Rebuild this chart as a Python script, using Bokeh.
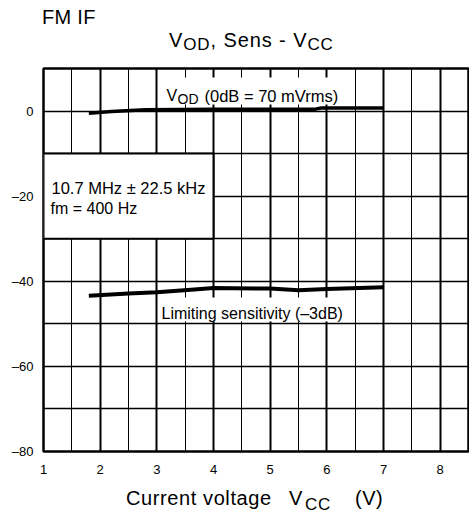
from bokeh.plotting import figure
from bokeh.models import (Range1d, FixedTicker, Grid, Label, CustomJSTickFormatter, Div)
from bokeh.layouts import column
from bokeh.embed import file_html
from bokeh.resources import INLINE

# ---- data ----
vcc_vod = [1.8, 2.2, 2.8, 4.0, 5.0, 5.8, 5.9, 7.0]
vod_db = [-0.5, -0.1, 0.3, 0.4, 0.4, 0.45, 0.7, 0.7]

vcc_sens = [1.8, 2.5, 3.0, 3.6, 4.0, 5.0, 5.5, 6.0, 7.0]
sens_db = [-43.4, -42.9, -42.6, -42.0, -41.6, -41.7, -42.1, -41.8, -41.4]

x_ticks = [1, 2, 3, 4, 5, 6, 7, 8]
y_ticks = [0, -20, -40, -60, -80]

FONT = "Liberation Sans"

TOP_H = 60          # header div height
FL, FT, FW, FH, FB = 43, 8, 425, 383, 30
X0, X1, Y0, Y1 = 1, 8.5, -80, 10

p = figure(frame_width=FW, frame_height=FH, min_border_left=FL, min_border_top=FT,
           min_border_right=1, min_border_bottom=FB,
           x_range=Range1d(X0, X1), y_range=Range1d(Y0, Y1),
           output_backend="svg", toolbar_location=None)

# page pixel -> data helpers (text placement only)
def px2x(px):
    return X0 + (px - FL) * (X1 - X0) / FW

def py2y(py):
    return Y1 - (py - TOP_H - FT) * (Y1 - Y0) / FH

p.outline_line_color = "black"
p.outline_line_width = 2.5
p.background_fill_color = "white"
p.border_fill_color = "white"

# grids
p.xgrid.ticker = FixedTicker(ticks=x_ticks)
p.xgrid.grid_line_color = "black"
p.xgrid.grid_line_width = 2
half = Grid(dimension=0, ticker=FixedTicker(ticks=[1.5, 2.5, 3.5, 4.5, 5.5, 6.5, 7.5]),
            grid_line_color="black", grid_line_width=1)
p.add_layout(half)
p.ygrid.ticker = FixedTicker(ticks=[0, -10, -20, -30, -40, -50, -60, -70])
p.ygrid.grid_line_color = "black"
p.ygrid.grid_line_width = 1.7

# axes
for ax in (p.xaxis, p.yaxis):
    ax.axis_line_color = None
    ax.major_tick_line_color = None
    ax.minor_tick_line_color = None
    ax.major_label_text_font = FONT
    ax.major_label_text_font_size = "13px"
    ax.major_label_text_color = "black"
p.xaxis.ticker = FixedTicker(ticks=x_ticks)
p.xaxis.major_label_standoff = 7
p.yaxis.ticker = FixedTicker(ticks=y_ticks)
p.yaxis.major_label_standoff = 4
p.yaxis.formatter = CustomJSTickFormatter(
    code="return tick < 0 ? '\u2013' + Math.abs(tick) : tick.toString();")

# white boxes
p.quad(left=[1], right=[4], bottom=[-30], top=[-10], fill_color="white",
       line_color="black", line_width=2)
p.quad(left=[3.02], right=[6.48], bottom=[py2y(104)], top=[py2y(77)],
       fill_color="white", line_color=None)
p.quad(left=[3.02], right=[6.48], bottom=[py2y(321)], top=[py2y(297)],
       fill_color="white", line_color=None)

# curves
p.line(vcc_vod, vod_db, line_color="black", line_width=3.5)
p.line(vcc_sens, sens_db, line_color="black", line_width=4)

def txt(text, px, py, size):
    p.add_layout(Label(x=px2x(px), y=py2y(py), text=text, text_font=FONT,
                       text_font_size=size, text_color="black",
                       text_align="left", text_baseline="alphabetic"))

# in-plot labels
txt("V", 166, 95, "16px")
txt("OD", 177, 98.5, "14px")
txt("(0dB = 70 mVrms)", 204, 95, "16.5px")
txt("10.7 MHz \u00b1 22.5 kHz", 51, 187, "16.5px")
txt("fm = 400 Hz", 50, 207.5, "16px")
txt("Limiting sensitivity (\u20133dB)", 161, 312.5, "16px")

# ---- header / footer texts (HTML, absolutely positioned pieces) ----
def span(text, left, baseline, size, ls=0):
    top = baseline - 0.8465 * size
    return (f'<span style="position:absolute;left:{left}px;top:{top:.1f}px;'
            f'font-size:{size}px;line-height:{size}px;white-space:nowrap;'
            f'letter-spacing:{ls}px;">{text}</span>')

def box(parts, h):
    inner = "".join(span(*pt) for pt in parts)
    return (f'<div style="position:relative;width:469px;height:{h}px;'
            f'font-family:\'{FONT}\',Arial,sans-serif;color:#000;">{inner}</div>')

SUB = '<span style="font-size:17px;position:relative;top:3px;">{}</span>'
title_html = "V" + SUB.format("OD") + ", Sens - V" + SUB.format("CC")

header = Div(text=box([("FM IF", 42, 24, 20, 0.3),
                       (title_html, 169, 47, 20, 0.9)], TOP_H),
             width=469, height=TOP_H, margin=0)

FOOT_H = 522 - TOP_H - (FT + FH + FB) - 1
foot_top = TOP_H + FT + FH + FB
footer = Div(text=box([("Current voltage", 126, 505 - foot_top, 20, 0.6),
                       ("V", 289, 505 - foot_top, 20), ("CC", 305, 510 - foot_top, 17, 0.6),
                       ("(V)", 355, 505 - foot_top, 20, 0.5)], FOOT_H),
             width=469, height=FOOT_H, margin=0)

layout = column(header, p, footer, spacing=0)
open("out.html", "w").write(file_html(layout, INLINE))
